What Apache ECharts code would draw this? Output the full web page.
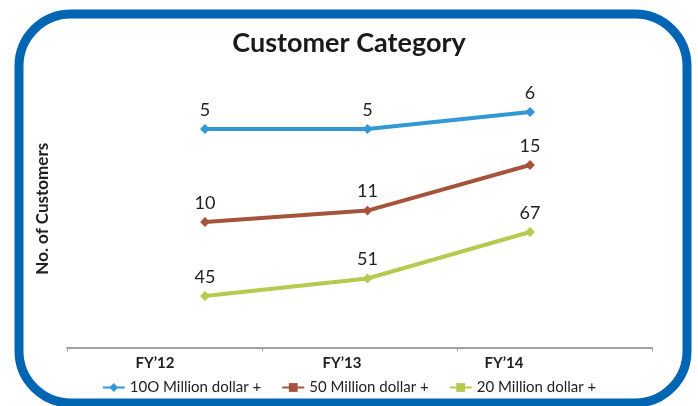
<!DOCTYPE html>
<html>
<head>
<meta charset="utf-8">
<script src="https://cdn.jsdelivr.net/npm/echarts@6/dist/echarts.min.js"></script>
<style>
  html, body { margin: 0; padding: 0; background: #fff; }
  #chart { width: 698px; height: 406px; }
</style>
</head>
<body>
<div id="chart"></div>
<script>
const categories = ['FY\u201912', 'FY\u201913', 'FY\u201914']
const seriesNames = ['10O Million dollar +', '50 Million dollar +', '20 Million dollar +']
const over100 = [5, 5, 6]
const over50 = [10, 11, 15]
const over20 = [45, 51, 67]

const font = 'Lato, "Open Sans", sans-serif'
const colors = ['#3399d4', '#a5533b', '#b6ca4f']

const chart = echarts.init(document.getElementById('chart'))

// each series gets its own little grid, the original chart spaces them freely
const plotGrid = (top, height) => ({ left: 205, width: 325, top, height })
const hiddenX = (gridIndex) => ({
  type: 'category', gridIndex, data: categories, boundaryGap: false, show: false
})
const hiddenY = (gridIndex, min, max) => ({
  type: 'value', gridIndex, min, max, show: false
})

const line = (name, data, idx, symbol) => ({
  name,
  type: 'line',
  xAxisIndex: idx,
  yAxisIndex: idx,
  data,
  symbol,
  symbolSize: symbol === 'diamond' ? 10 : 7,
  symbolRotate: symbol === 'rect' ? 45 : 0,
  itemStyle: { color: colors[idx - 1] },
  lineStyle: { color: colors[idx - 1], width: 4 },
  label: {
    show: true,
    position: 'top',
    distance: 5,
    color: '#222',
    fontFamily: font,
    fontSize: 18
  },
  z: 3
})

chart.setOption({
  backgroundColor: '#fff',
  animation: false,
  title: {
    text: 'Customer Category',
    left: 'center',
    top: 25,
    textStyle: { fontFamily: font, fontSize: 27, fontWeight: 'bold', color: '#1a1a1a' }
  },
  legend: {
    bottom: 6,
    left: 'center',
    itemWidth: 22,
    itemHeight: 11,
    itemGap: 20,
    symbolRotate: 0,
    data: seriesNames,
    textStyle: { fontFamily: font, fontSize: 15, color: '#222' }
  },
  grid: [
    { left: 67, width: 585, top: 70, height: 277.5 },
    plotGrid(112, 17),
    plotGrid(165, 57),
    plotGrid(232, 64)
  ],
  xAxis: [
    {
      type: 'category',
      gridIndex: 0,
      boundaryGap: true,
      data: [
        { value: categories[0], textStyle: { padding: [0, 19, 0, 0] } },
        { value: categories[1], textStyle: { padding: [0, 35, 0, 0] } },
        { value: categories[2], textStyle: { padding: [0, 101, 0, 0] } }
      ],
      axisLine: { lineStyle: { color: '#a0a0a0', width: 2 } },
      axisTick: { show: true, length: 4, lineStyle: { color: '#a0a0a0', width: 1 } },
      axisLabel: { margin: 8, fontFamily: font, fontSize: 15, fontWeight: 'bold', color: '#222' }
    },
    hiddenX(1),
    hiddenX(2),
    hiddenX(3)
  ],
  yAxis: [
    {
      type: 'value',
      gridIndex: 0,
      name: 'No. of Customers',
      nameLocation: 'middle',
      nameRotate: 90,
      nameGap: 16,
      nameTextStyle: { fontFamily: font, fontSize: 17, fontWeight: 'bold', color: '#222' },
      axisLine: { show: false },
      axisTick: { show: false },
      axisLabel: { show: false },
      splitLine: { show: false }
    },
    hiddenY(1, 5, 6),
    hiddenY(2, 10, 15),
    hiddenY(3, 45, 67)
  ],
  series: [
    line(seriesNames[0], over100, 1, 'diamond'),
    line(seriesNames[1], over50, 2, 'rect'),
    line(seriesNames[2], over20, 3, 'rect')
  ],
  graphic: [{
    type: 'rect',
    shape: { x: 19, y: 14, width: 668, height: 389, r: 52 },
    style: { fill: 'none', stroke: '#0066b3', lineWidth: 9 },
    z: 10
  }]
})
</script>
</body>
</html>
